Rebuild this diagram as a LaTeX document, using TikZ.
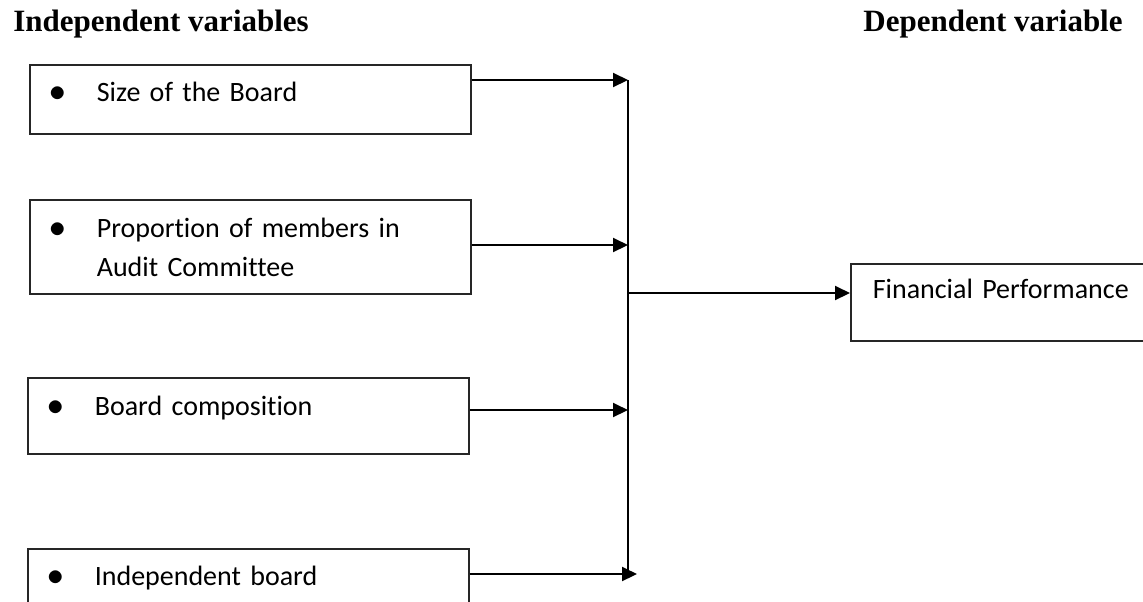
\documentclass[tikz,border=0pt]{standalone}
\usepackage{fontspec}
\setmainfont{Carlito}[Ligatures=NoCommon]
\newfontfamily\headfont{Liberation Serif}
\usetikzlibrary{arrows.meta}
\newcommand{\bulletitem}[1]{\makebox[23.5pt][l]{\scalebox{1.15}{$\bullet$}}\begin{tabular}[t]{@{}l@{}}#1\end{tabular}}
\tikzstyle{varbox} = [rectangle, draw=black!85, line width=0.8pt, anchor=north west, inner xsep=10pt, inner ysep=0pt, text width=200.5pt, align=left, font=\fontsize{14}{19.5}\selectfont]
\tikzstyle{heading} = [font=\headfont\bfseries\fontsize{15.5}{18}\selectfont, inner sep=0pt]
\tikzstyle{arrow} = [line width=1pt, -{Triangle[length=7.5pt,width=7pt]}]
\tikzstyle{trunk} = [line width=1pt]
\begin{document}
\begin{tikzpicture}[x=0.5pt, y=-0.5pt]
\useasboundingbox (0,0) rectangle (1143,601);
\node (indepHead) [heading, anchor=base west] at (13,31) {Independent variables};
\node (depHead) [heading, anchor=base east] at (1123,31) {Dependent variable};
\node (boardSize) [varbox, text height=18.5pt, text depth=16pt] at (29,64) {\bulletitem{Size of the Board}};
\node (auditComm) [varbox, text height=19pt, text depth=28pt] at (29,199) {\bulletitem{Proportion of members in\\Audit Committee}};
\node (boardComp) [varbox, text height=19pt, text depth=19pt] at (27,377) {\bulletitem{Board composition}};
\node (indepBoard) [varbox, text height=18.5pt, text depth=20pt] at (27,548) {\bulletitem{Independent board}};
\node (finPerf) [varbox, inner xsep=11pt, text width=150pt, text height=17.5pt, text depth=21pt] at (850,263) {Financial Performance};
\coordinate (topJoin) at (628,80);
\coordinate (auditJoin) at (628,245);
\coordinate (compJoin) at (628,410);
\coordinate (bottomJoin) at (628,574);
\coordinate (indepJoin) at (637,574);
\coordinate (outJoin) at (628,293);
\draw [trunk] (topJoin) -- (bottomJoin);
\draw [arrow] (boardSize.east |- topJoin) -- (topJoin);
\draw [arrow] (auditComm.east |- auditJoin) -- (auditJoin);
\draw [arrow] (boardComp.east |- compJoin) -- (compJoin);
\draw [arrow] (indepBoard.east |- indepJoin) -- (indepJoin);
\draw [arrow] (outJoin) -- (finPerf.west |- outJoin);
\end{tikzpicture}
\end{document}
